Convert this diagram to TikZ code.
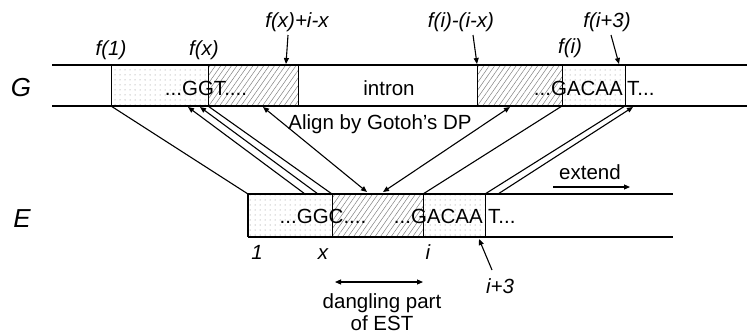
\documentclass[tikz,border=0pt]{standalone}
\usepackage{fontspec}
\setmainfont{Liberation Sans}
\usetikzlibrary{arrows.meta,patterns.meta}
\begin{document}
\begin{tikzpicture}[x=1pt,y=-1pt,
  txt/.style={inner sep=0pt,font=\fontsize{20.5}{24}\selectfont},
  lab/.style={inner sep=0pt,font=\fontsize{20.5}{24}\selectfont\itshape},
  big/.style={inner sep=0pt,font=\fontsize{26}{30}\selectfont\itshape},
  strip/.style={line width=1.3pt},
  dotbox/.style={draw,line width=0.9pt,pattern={Dots[radius=0.5pt,distance=5pt]},pattern color=gray},
  hatchbox/.style={draw,line width=0.9pt,pattern={Lines[angle=55,distance=4.4pt,line width=0.5pt]},pattern color=gray},
  conn/.style={line width=1.1pt},
  tip/.style={-{Triangle[length=6pt,width=5pt]}},
  dtip/.style={{Triangle[length=6pt,width=5pt]}-{Triangle[length=6pt,width=5pt]}}]
\useasboundingbox (0,0) rectangle (747,335);
% ---- G strip
\draw[dotbox] (111,65) rectangle (208,106);
\draw[hatchbox] (208,65) rectangle (298,106);
\draw[hatchbox] (477,65) rectangle (562,106);
\draw[dotbox] (562,65) rectangle (625,106);
\draw[strip] (52,65) -- (747,65);
\draw[strip] (52,106) -- (747,106);
% ---- E strip
\draw[dotbox] (248,194) rectangle (332,237);
\draw[hatchbox] (332,194) rectangle (423,237);
\draw[dotbox] (423,194) rectangle (485,237);
\draw[strip] (248,194) -- (673,194);
\draw[strip] (248,237) -- (673,237);
\draw[strip] (248,194) -- (248,237);
% ---- labels
\node[big] (G) at (21,88) {G};
\node[big] (E) at (22,219) {E};
\node[txt] (ggt) at (206,88) {...GGT....};
\node[txt] (intron) at (389,88) {intron};
\node[txt,anchor=east] (gacaaG) at (623,88) {...GACAA};
\node[txt,anchor=west] (tG) at (627,88) {T...};
\node[txt] (ggc) at (323,216) {...GGC....};
\node[txt,anchor=east] (gacaaE) at (483,216) {...GACAA};
\node[txt,anchor=west] (tE) at (488,216) {T...};
\node[lab] (f1) at (111,50) {f(1)};
\node[lab] (fx) at (204,50) {f(x)};
\node[lab] (fxix) at (297,22) {f(x)+i-x};
\node[lab] (fiix) at (461,22) {f(i)-(i-x)};
\node[lab] (fi) at (570,48) {f(i)};
\node[lab] (fi3) at (607,22) {f(i+3)};
\node[lab] (one) at (257,252) {1};
\node[lab] (xl) at (323,254) {x};
\node[lab] (il) at (428,252) {i};
\node[lab] (i3) at (500,286) {i+3};
\node[txt] (align) at (380,124) {Align by Gotoh’s DP};
\node[txt] (extend) at (590,172) {extend};
\node[txt,align=center] (dang) at (382,312) {dangling part\\[-2pt]of EST};
% ---- coordinates
\coordinate (a1s) at (288,35); \coordinate (a1e) at (286,64);
\coordinate (a2s) at (473,35); \coordinate (a2e) at (477,64);
\coordinate (a3s) at (611,35); \coordinate (a3e) at (619,64);
\coordinate (a4s) at (492,270); \coordinate (a4e) at (479,239);
\coordinate (d1) at (335,282); \coordinate (d2) at (423,282);
\coordinate (x1) at (553,187); \coordinate (x2) at (630,187);
\coordinate (g1) at (111,106); \coordinate (e1) at (248,194);
\coordinate (g2) at (188,107); \coordinate (e2) at (305,194);
\coordinate (g3) at (200,107); \coordinate (e3) at (318,194);
\coordinate (g4) at (208,106); \coordinate (e4) at (332,194);
\coordinate (g5) at (263,107); \coordinate (e5) at (367,192);
\coordinate (g6) at (510,107); \coordinate (e6) at (383,192);
\coordinate (g7) at (562,106); \coordinate (e7) at (423,194);
\coordinate (g8) at (625,106); \coordinate (e8) at (485,194);
\coordinate (g9) at (633,107); \coordinate (e9) at (498,194);
% ---- connectors
\draw[conn,tip] (a1s) -- (a1e);
\draw[conn,tip] (a2s) -- (a2e);
\draw[conn,tip] (a3s) -- (a3e);
\draw[conn,tip] (a4s) -- (a4e);
\draw[conn,dtip] (d1) -- (d2);
\draw[conn,tip] (x1) -- (x2);
\draw[conn] (g1) -- (e1);
\draw[conn,tip] (e2) -- (g2);
\draw[conn,tip] (e3) -- (g3);
\draw[conn] (g4) -- (e4);
\draw[conn,dtip] (g5) -- (e5);
\draw[conn,dtip] (g6) -- (e6);
\draw[conn] (g7) -- (e7);
\draw[conn] (g8) -- (e8);
\draw[conn,tip] (e9) -- (g9);
\end{tikzpicture}
\end{document}
